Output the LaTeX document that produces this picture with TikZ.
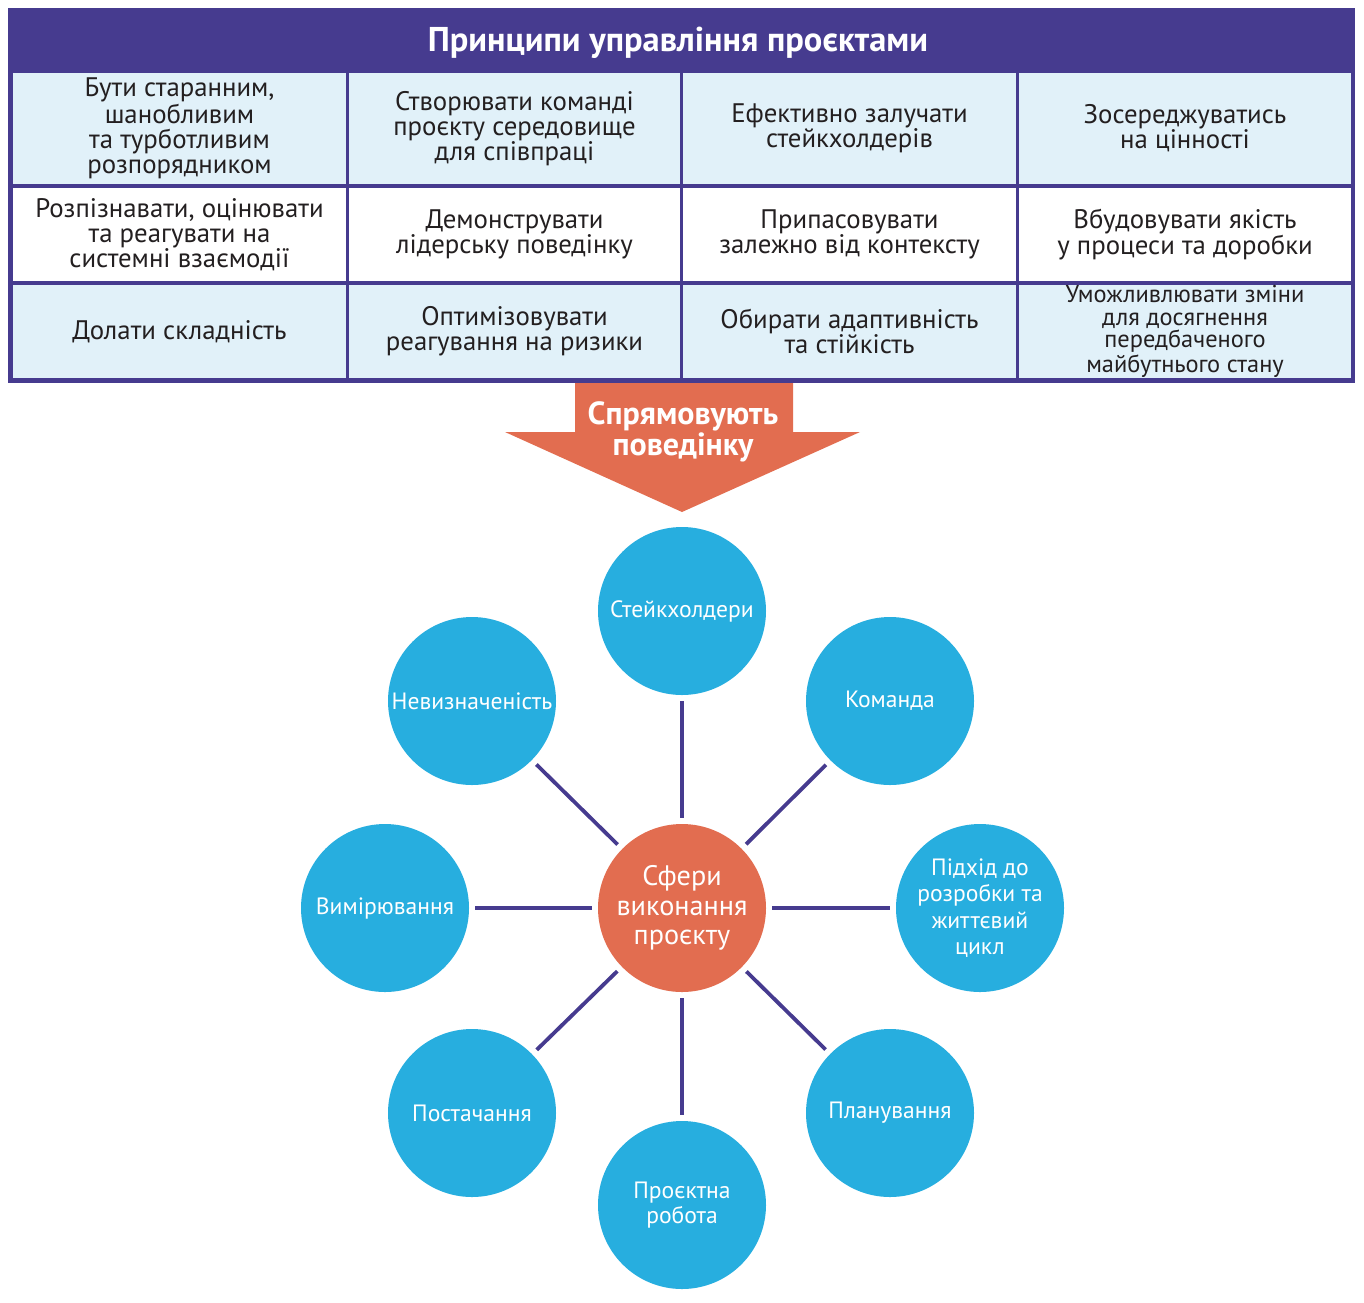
\documentclass[tikz,border=0pt]{standalone}
\usepackage{fontspec}
\setmainfont{PT Sans}
\usepackage{xcolor}
\usetikzlibrary{positioning}
\definecolor{pmviolet}{RGB}{70,59,143}
\definecolor{pmpale}{RGB}{225,241,249}
\definecolor{pmorange}{RGB}{226,109,80}
\definecolor{pmblue}{RGB}{39,174,223}
\definecolor{pmtext}{RGB}{35,31,32}
\tikzset{%
   cell/.style={
      inner sep=0pt,
      outer sep=0pt,
      align=center,
      text=pmtext,
      font=\fontsize{13.4}{12.4}\selectfont
   },
   c1/.style={cell, minimum width=166.5pt},
   c2/.style={cell, minimum width=165.5pt},
   c3/.style={cell, minimum width=166.5pt},
   c4/.style={cell, minimum width=166pt},
   r1/.style={minimum height=55.5pt, fill=pmpale},
   r2/.style={minimum height=46.5pt, fill=white},
   r3/.style={minimum height=46.5pt, fill=pmpale},
   sph/.style={
      circle,
      inner sep=0pt,
      minimum size=84pt,
      fill=pmblue,
      text=white,
      align=center,
      font=\fontsize{11.8}{13.2}\selectfont
   },
   core/.style={
      sph,
      fill=pmorange,
      font=\fontsize{14.1}{14.75}\selectfont
   },
   link/.style={
      draw=pmviolet,
      line width=1.9pt,
      shorten <=3pt,
      shorten >=3pt
   },
}

\begin{document}
\begin{tikzpicture}[x=0.5pt, y=-0.5pt]
   \useasboundingbox (0,0) rectangle (1364,1302);
   % table of principles
   \fill[pmviolet] (8,8) rectangle (1355,383);
   \node[text=white, font=\fontsize{17.2}{19}\selectfont\bfseries] (title) at (678,43) {Принципи управління проєктами};
   \node[c1, r1] (p11) at (179.5,128.5) {Бути старанним,\\шанобливим\\та турботливим\\розпорядником};
   \node[c2, r1] (p12) at (514.5,128.5) {Створювати команді\\проєкту середовище\\для співпраці};
   \node[c3, r1] (p13) at (849.5,128.5) {Ефективно залучати\\стейкхолдерів};
   \node[c4, r1] (p14) at (1185,128.5) {Зосереджуватись\\на цінності};
   \node[c1, r2] (p21) at (179.5,234.5) {Розпізнавати, оцінювати\\та реагувати на\\системні взаємодії};
   \node[c2, r2] (p22) at (514.5,234.5) {Демонструвати\\лідерську поведінку};
   \node[c3, r2] (p23) at (849.5,234.5) {Припасовувати\\залежно від контексту};
   \node[c4, r2] (p24) at (1185,234.5) {Вбудовувати якість\\у процеси та доробки};
   \node[c1, r3] (p31) at (179.5,331.5) {Долати складність};
   \node[c2, r3] (p32) at (514.5,331.5) {Оптимізовувати\\реагування на ризики};
   \node[c3, r3] (p33) at (849.5,331.5) {Обирати адаптивність\\та стійкість};
   \node[c4, r3, font=\fontsize{12.2}{11.2}\selectfont] (p34) at (1185,331.5) {Уможливлювати зміни\\для досягнення\\передбаченого\\майбутнього стану};
   % arrow
   \fill[pmorange] (575,383) -- (793,383) -- (793,432) -- (860,432) -- (682,512)
      -- (505,432) -- (575,432) -- cycle;
   \node[text=white, align=center, font=\fontsize{16}{14.5}\selectfont\bfseries] (drive) at (683,432) {Спрямовують\\поведінку};
   % performance domains
   \node[core] (dom) at (682,908) {Сфери\\виконання\\проєкту};
   \node[sph] (stk) at (682,611) {Стейкхолдери};
   \node[sph] (team) at (890,701) {Команда};
   \node[sph] (unc) at (472,701) {Невизначеність};
   \node[sph] (meas) at (385,908) {Вимірювання};
   \node[sph] (life) at (980,908) {Підхід до\\розробки та\\життєвий\\цикл};
   \node[sph] (sup) at (472,1113) {Постачання};
   \node[sph] (plan) at (890,1113) {Планування};
   \node[sph, font=\fontsize{11.8}{12.5}\selectfont] (work) at (682,1205) {Проєктна\\робота};
   \path[link] (dom) -- (stk);
   \path[link] (dom) -- (team);
   \path[link] (dom) -- (unc);
   \path[link] (dom) -- (meas);
   \path[link] (dom) -- (life);
   \path[link] (dom) -- (sup);
   \path[link] (dom) -- (plan);
   \path[link] (dom) -- (work);
\end{tikzpicture}
\end{document}
